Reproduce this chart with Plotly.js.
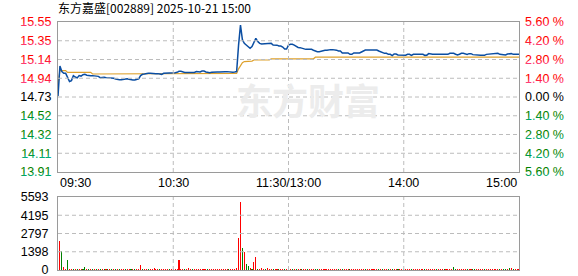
<!DOCTYPE html>
<html>
<head>
<meta charset="utf-8">
<script src="https://cdn.plot.ly/plotly-3.0.1.min.js"></script>
<style>
html,body{margin:0;padding:0;background:#fff;}
#chart{width:578px;height:276px;}
</style>
</head>
<body>
<svg width="0" height="0" style="position:absolute">
<defs>
<linearGradient id="gRed" x1="0" y1="0" x2="0" y2="1">
<stop offset="0" stop-color="#ff0000"/><stop offset="0.45" stop-color="#ff0000"/><stop offset="1" stop-color="#ff66cc"/>
</linearGradient>
<linearGradient id="gGreen" x1="0" y1="0" x2="0" y2="1">
<stop offset="0" stop-color="#008000"/><stop offset="0.45" stop-color="#008000"/><stop offset="1" stop-color="#00cccc"/>
</linearGradient>
</defs>
</svg>
<div id="chart"></div>
<script>
// ---- data ----
const titleText = '东方嘉盛[002889] 2025-10-21 15:00';
const preClose = 14.73;
const maxPct = 0.056;
const timeLabels = ['09:30', '10:30', '11:30/13:00', '14:00', '15:00'];
const timeTickMinutes = [0, 60, 120, 180, 240];
const priceTickText = ['15.55', '15.35', '15.14', '14.94', '14.73', '14.52', '14.32', '14.11', '13.91'];
const pctTickText = ['5.60 %', '4.20 %', '2.80 %', '1.40 %', '0.00 %', '1.40 %', '2.80 %', '4.20 %', '5.60 %'];
const volTickText = ['0', '1398', '2797', '4195', '5593'];
const volMax = 5593;

// price per minute (0 = 09:30 ... 240 = 15:00)
const price = [
14.74,15.07,15.01,14.99,14.99,14.95,14.90,14.91,14.965,14.95,
14.94,14.965,14.96,14.975,14.98,14.97,14.965,14.965,14.965,14.96,
14.957,14.957,14.943,14.948,14.948,14.943,14.943,14.943,14.943,14.935,
14.928,14.921,14.921,14.921,14.925,14.93,14.93,14.925,14.917,14.917,
14.917,14.92,14.93,14.965,14.98,14.983,14.99,14.99,14.99,14.987,
14.987,14.987,14.987,14.979,14.979,14.99,14.99,14.99,14.99,14.99,
14.998,14.998,15.001,15.012,15.012,15.005,15.0,15.0,15.0,14.998,
15.0,15.0,15.01,15.005,15.005,15.016,15.016,15.005,14.998,14.998,
15.001,15.005,15.005,15.005,15.005,15.009,15.009,15.009,15.009,15.005,
15.001,15.001,15.005,15.01,15.30,15.52,15.36,15.32,15.302,15.28,
15.265,15.284,15.339,15.375,15.34,15.32,15.313,15.313,15.313,15.313,
15.313,15.32,15.302,15.302,15.30,15.291,15.291,15.28,15.258,15.258,
15.30,15.309,15.309,15.30,15.284,15.275,15.273,15.265,15.254,15.254,
15.254,15.254,15.254,15.245,15.236,15.229,15.229,15.236,15.243,15.243,
15.243,15.251,15.251,15.251,15.251,15.245,15.236,15.236,15.214,15.214,
15.214,15.214,15.199,15.199,15.214,15.214,15.214,15.214,15.225,15.236,
15.247,15.247,15.247,15.247,15.247,15.247,15.247,15.236,15.229,15.214,
15.21,15.21,15.199,15.199,15.185,15.203,15.203,15.192,15.192,15.192,
15.188,15.19,15.199,15.199,15.188,15.199,15.199,15.199,15.199,15.199,
15.199,15.188,15.19,15.207,15.199,15.199,15.199,15.199,15.199,15.199,
15.199,15.199,15.199,15.199,15.21,15.21,15.21,15.2,15.192,15.2,
15.21,15.21,15.205,15.199,15.207,15.207,15.196,15.192,15.188,15.188,
15.188,15.188,15.188,15.199,15.2,15.203,15.203,15.207,15.21,15.21,
15.199,15.199,15.196,15.192,15.203,15.207,15.207,15.199,15.199,15.203,
15.2
];

// average price per minute
const avgPrice = [
14.87,15.02,15.02,15.02,15.02,15.001,15.001,15.001,15.001,15.001,
15.001,15.001,15.001,15.001,15.001,15.001,15.001,15.001,14.983,14.983,
14.983,14.983,14.983,14.983,14.983,14.983,14.983,14.983,14.983,14.983,
14.983,14.983,14.983,14.983,14.983,14.983,14.983,14.983,14.983,14.983,
14.983,14.983,14.983,14.983,14.983,14.983,14.983,14.983,14.983,14.983,
14.983,14.983,14.983,14.983,14.983,14.983,14.983,14.983,14.983,14.983,
14.983,14.983,14.983,14.983,14.983,14.983,14.983,14.983,14.983,14.983,
14.983,14.983,14.983,14.983,14.983,14.983,14.983,14.983,14.983,14.983,
14.983,14.983,14.983,14.983,14.983,14.983,14.983,14.983,14.983,14.983,
14.983,14.983,14.983,14.99,15.04,15.075,15.108,15.12,15.12,15.12,
15.12,15.125,15.137,15.137,15.137,15.137,15.137,15.137,15.137,15.137,
15.137,15.15,15.15,15.15,15.15,15.15,15.15,15.15,15.15,15.15,
15.15,15.15,15.15,15.15,15.15,15.15,15.15,15.15,15.15,15.15,
15.15,15.15,15.15,15.15,15.168,15.168,15.168,15.168,15.168,15.168,
15.168,15.168,15.168,15.168,15.168,15.168,15.168,15.168,15.168,15.168,
15.168,15.168,15.168,15.168,15.168,15.168,15.168,15.168,15.168,15.168,
15.168,15.168,15.168,15.168,15.168,15.168,15.168,15.168,15.168,15.168,
15.168,15.168,15.168,15.168,15.168,15.168,15.168,15.168,15.168,15.168,
15.168,15.168,15.168,15.168,15.168,15.168,15.168,15.168,15.168,15.168,
15.168,15.168,15.168,15.168,15.168,15.168,15.168,15.168,15.168,15.168,
15.168,15.168,15.168,15.168,15.168,15.168,15.168,15.168,15.168,15.168,
15.168,15.168,15.168,15.168,15.168,15.168,15.168,15.168,15.168,15.168,
15.168,15.168,15.168,15.168,15.168,15.168,15.168,15.168,15.168,15.168,
15.168,15.168,15.168,15.168,15.168,15.168,15.168,15.168,15.168,15.168,
15.168
];

// volume per minute
const volume = [
0,2250,1456,253,90,766,80,70,60,75,
65,70,60,75,230,70,65,60,70,75,
60,70,65,60,75,70,65,60,70,65,
75,70,60,65,70,75,60,70,65,60,
70,75,110,383,80,70,65,75,70,60,
153,70,65,60,75,70,65,60,70,65,
75,70,90,790,80,70,60,75,150,65,
70,60,75,70,65,60,70,75,65,70,
60,75,70,65,60,70,75,65,70,80,
70,75,90,120,2452,5233,1686,1379,460,306,
120,100,613,996,90,80,150,70,80,150,
70,65,75,70,60,65,70,75,60,70,
230,70,65,60,75,70,65,60,70,65,
75,70,60,65,70,75,60,70,65,60,
70,75,65,60,70,65,75,70,60,65,
70,75,60,70,65,60,70,75,65,70,
60,75,70,65,60,70,75,65,70,60,
75,70,65,60,70,75,60,70,65,60,
70,75,65,60,70,65,75,70,60,65,
70,75,60,70,65,60,70,75,65,70,
60,75,70,65,60,70,230,65,70,60,
75,70,65,60,70,75,60,70,65,60,
70,75,65,60,70,65,75,70,60,65,
70,75,60,70,65,120,150,75,65,70,
60
];
// minutes whose volume bar is a "down" (green) bar
const downMinutes = [2,5,8,10,13,14,16,18,20,22,24,26,28,30,32,35,38,40,44,47,53,58,66,70,78,89,96,98,99,101,104,108,112,115,118,122,124,127,130,134,135,146,148,152,160,167,169,172,174,177,180,184,191,197,201,206,207,213,216,217,222,230,232,233,235,237];

// ---- build ----
const minutes = price.map((_, i) => i);
const lo = preClose * (1 - maxPct), hi = preClose * (1 + maxPct);
const priceTicks = priceTickText.map((_, i) => hi - i * (hi - lo) / (priceTickText.length - 1));
const volTicks = volTickText.map((_, i) => i * volMax / (volTickText.length - 1));
const downSet = new Set(downMinutes);
const barColors = minutes.map(m => downSet.has(m) ? '#008000' : '#ff0000');

const tickFontFamily = 'Liberation Sans, Arial, sans-serif';
const tickSize = 12.5;

const traces = [
  {x: minutes, y: avgPrice, type: 'scatter', mode: 'lines', xaxis: 'x', yaxis: 'y',
   line: {color: '#dea12c', width: 1.2}, hoverinfo: 'skip'},
  {x: minutes, y: price, type: 'scatter', mode: 'lines', xaxis: 'x', yaxis: 'y',
   line: {color: '#0b4ea2', width: 1.5}, hoverinfo: 'skip'},
  // same series on the percent axis (transparent) so the right axis is drawn
  {x: minutes, y: price, type: 'scatter', mode: 'lines', xaxis: 'x', yaxis: 'y2',
   line: {color: 'rgba(0,0,0,0)', width: 0}, hoverinfo: 'skip'},
  {x: minutes, y: volume, type: 'bar', xaxis: 'x2', yaxis: 'y3', width: 0.55,
   marker: {color: barColors, line: {width: 0}}, hoverinfo: 'skip'}
];

// dashed grid lines at the axis ticks
const shapes = [];
const gl = {color: '#bcbcbc', width: 1, dash: '4px,3px'};
priceTicks.slice(1, -1).forEach(v => shapes.push({type: 'line', layer: 'above', xref: 'x domain', yref: 'y',
  x0: 0, x1: 1, y0: v, y1: v, line: gl}));
volTicks.slice(1, -1).forEach(v => shapes.push({type: 'line', layer: 'above', xref: 'x2 domain', yref: 'y3',
  x0: 0, x1: 1, y0: v, y1: v, line: gl}));
timeTickMinutes.slice(1, -1).forEach(m => {
  shapes.push({type: 'line', layer: 'above', xref: 'x', yref: 'y domain', x0: m, x1: m, y0: 0, y1: 1, line: gl});
  shapes.push({type: 'line', layer: 'above', xref: 'x2', yref: 'y3 domain', x0: m, x1: m, y0: 0, y1: 1, line: gl});
});

const topB = (270 - 172) / 248, botT = (270 - 197) / 248;
const xCommon = {range: [0, 240], tickvals: timeTickMinutes, showticklabels: false, ticks: '', showgrid: false,
  showline: true, mirror: true, linecolor: '#9a9a9a', linewidth: 1, zeroline: false, fixedrange: true};

const annotations = timeLabels.map((t, i) => ({
  text: t, xref: 'x', yref: 'paper', x: timeTickMinutes[i], y: (270 - 183) / 248,
  xanchor: i === 0 ? 'left' : (i === timeLabels.length - 1 ? 'right' : 'center'), yanchor: 'middle',
  showarrow: false, font: {family: tickFontFamily, size: tickSize, color: '#000'}
}));
annotations.unshift({
  text: '<b>东方财富</b>', xref: 'paper', yref: 'paper', x: (308 - 58) / 461, y: (270 - 99) / 248,
  xanchor: 'center', yanchor: 'middle', showarrow: false,
  font: {family: 'Noto Sans CJK SC', size: 36, color: '#ececec'}
});

const layout = {
  width: 578, height: 276,
  margin: {l: 58, r: 59, t: 22, b: 6, pad: 0},
  paper_bgcolor: '#ffffff', plot_bgcolor: 'rgba(0,0,0,0)',
  showlegend: false,
  title: {text: titleText, xref: 'container', yref: 'container', x: 58 / 578, xanchor: 'left',
    y: 1 - 9 / 276, yanchor: 'middle', font: {family: 'Noto Sans CJK SC', size: 12, color: '#000'}},
  xaxis: Object.assign({}, xCommon, {domain: [0, 1], anchor: 'y'}),
  yaxis: {domain: [topB, 1], range: [lo, hi], tickvals: priceTicks, ticktext: priceTickText, ticks: '', showgrid: false,
    showline: true, mirror: true, linecolor: '#9a9a9a', linewidth: 1, zeroline: false,
    ticklabelstandoff: 3, ticklabeloverflow: 'allow', tickfont: {family: tickFontFamily, size: tickSize, color: '#000'}, fixedrange: true},
  yaxis2: {overlaying: 'y', side: 'right', anchor: 'x', range: [lo, hi], tickvals: priceTicks, ticktext: pctTickText,
    ticks: '', showgrid: false, showline: false, zeroline: false, ticklabelstandoff: 5, ticklabeloverflow: 'allow',
    tickfont: {family: tickFontFamily, size: tickSize, color: '#000'}, fixedrange: true},
  xaxis2: Object.assign({}, xCommon, {domain: [0, 1], anchor: 'y3'}),
  yaxis3: {domain: [0, botT], range: [0, volMax], tickvals: volTicks, ticktext: volTickText, ticks: '', showgrid: false,
    showline: true, mirror: true, linecolor: '#9a9a9a', linewidth: 1, zeroline: false,
    ticklabelstandoff: 6, ticklabeloverflow: 'allow', tickfont: {family: tickFontFamily, size: tickSize, color: '#000'}, fixedrange: true},
  bargap: 0,
  shapes: shapes,
  annotations: annotations
};

Plotly.newPlot('chart', traces, layout, {staticPlot: true, displayModeBar: false}).then(gd => {
  const eps = 1e-6;
  gd.querySelectorAll('g.ytick text, g.y2tick text').forEach(t => {
    const d = t.__data__ || (t.parentNode && t.parentNode.__data__);
    if (!d || typeof d.x !== 'number') return;
    let fill = null;
    if (d.x > preClose + eps) fill = 'url(#gRed)';
    else if (d.x < preClose - eps) fill = 'url(#gGreen)';
    if (fill) t.style.fill = fill;
  });
});
</script>
</body>
</html>
